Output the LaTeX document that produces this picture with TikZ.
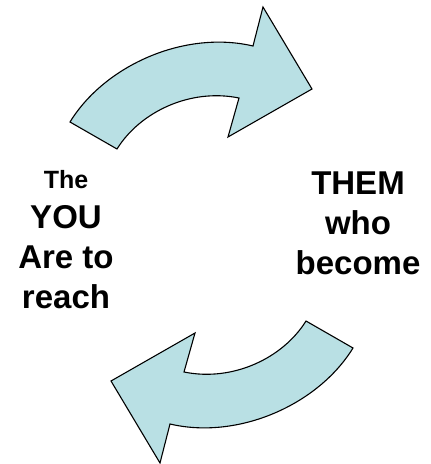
\documentclass[tikz,border=0pt]{standalone}
\usepackage{fontspec}
\setmainfont{Liberation Sans}
\definecolor{ArrowBlue}{RGB}{185,224,228}

\begin{document}
\begin{tikzpicture}[x=1pt,y=-1pt,
    bent/.style={fill=ArrowBlue,draw=black,line width=1.1pt,line join=miter},
    word/.style={align=center,inner sep=0pt,anchor=north,
      font=\bfseries\fontsize{33}{40}\selectfont}]
  \path[use as bounding box] (0,0) rectangle (431,464);
  % the two curved arrows, second one turned half round
  \foreach \ang in {0,180}{
    \begin{scope}[rotate around={\ang:(211.5,235)}]
      \draw[bent] (70,122) .. controls (105,65) and (185,30) .. (253,46)
        -- (263,7) -- (312,89) -- (228,137) -- (239,98)
        .. controls (190,88) and (140,112) .. (117,149) -- cycle;
    \end{scope}
  }
  \node[word] (you) at (66,170)
    {{\fontsize{25}{40}\selectfont The}\\ YOU\\ Are to\\ reach};
  \node[word] (them) at (358,171.5) {THEM\\ who\\ become};
\end{tikzpicture}
\end{document}
